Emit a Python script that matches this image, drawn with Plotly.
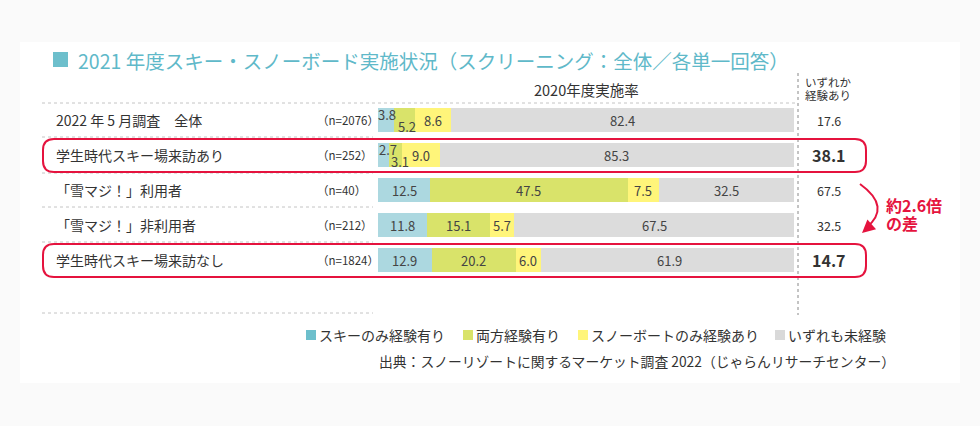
import plotly.graph_objects as go

# ---------------- data ----------------
categories = ["2022 年 5 月調査　全体", "学生時代スキー場来訪あり", "「雪マジ！」利用者",
              "「雪マジ！」非利用者", "学生時代スキー場来訪なし"]
sample_sizes = ["（n=2076）", "（n=252）", "（n=40）", "（n=212）", "（n=1824）"]
series_names = ["スキーのみ経験有り", "両方経験有り", "スノーボートのみ経験あり", "いずれも未経験"]
ski_only = [3.8, 2.7, 12.5, 11.8, 12.9]
both = [5.2, 3.1, 47.5, 15.1, 20.2]
snowboard_only = [8.6, 9.0, 7.5, 5.7, 6.0]
neither = [82.4, 85.3, 32.5, 67.5, 61.9]
any_experience = [17.6, 38.1, 67.5, 32.5, 14.7]
highlighted_rows = [1, 4]
title_text = "2021 年度スキー・スノーボード実施状況（スクリーニング：全体／各単一回答）"
header_text = "2020年度実施率"
right_header = ["いずれか", "経験あり"]
diff_text = ["約2.6倍", "の差"]
source_text = "出典：スノーリゾートに関するマーケット調査 2022（じゃらんリサーチセンター）"

# ---------------- styles ----------------
W, H = 980, 426
FONT = "Noto Sans CJK JP"
bar_colors = ["#acd8e0", "#d9e36a", "#fff57a", "#dcdcdc"]
legend_colors = ["#6dbfcc", "#d9e36a", "#fff57a", "#d9d9d9"]
TEAL = "#5fb9c9"
RED = "#e5133e"
TXT = "#333333"
# label offsets for tiny segments: (row, series) -> (xshift, yshift)
label_offsets = {(0, 0): (1, 6), (0, 1): (2, -6), (1, 0): (4, 6), (1, 1): (4, -6)}


def X(px):
    return px / W


def Y(py):
    return 1 - py / H


series = [ski_only, both, snowboard_only, neither]
fig = go.Figure()
for name, vals, col in zip(series_names, series, bar_colors):
    fig.add_trace(go.Bar(
        y=categories, x=vals, name=name, orientation="h",
        marker=dict(color=col, line=dict(width=0)),
        width=0.69, hoverinfo="skip", showlegend=False,
    ))

annotations = []
shapes = []

# white card
shapes.append(dict(type="rect", xref="paper", yref="paper", layer="below",
                   x0=X(20), x1=X(960), y0=Y(383), y1=Y(42),
                   fillcolor="white", line=dict(width=0)))

# title
shapes.append(dict(type="rect", xref="paper", yref="paper",
                   x0=X(53), x1=X(68), y0=Y(67), y1=Y(52),
                   fillcolor="#6dbfcc", line=dict(width=0)))
annotations.append(dict(text=title_text, xref="paper", yref="paper", x=X(76), y=Y(60),
                        xanchor="left", yanchor="middle", showarrow=False,
                        font=dict(family=FONT, size=19.5, color=TEAL)))

# header
annotations.append(dict(text=header_text, xref="paper", yref="paper", x=X(586), y=Y(89),
                        xanchor="center", yanchor="middle", showarrow=False,
                        font=dict(family=FONT, size=14.5, color=TXT)))
for i, t in enumerate(right_header):
    annotations.append(dict(text=t, xref="paper", yref="paper", x=X(803), y=Y(82 + 13 * i),
                            xanchor="left", yanchor="middle", showarrow=False,
                            font=dict(family=FONT, size=11.5, color=TXT)))

# dotted separators
dot = dict(color="#c4c4c4", width=1, dash="dot")
shapes.append(dict(type="line", xref="paper", yref="paper", x0=X(42), x1=X(795),
                   y0=Y(103), y1=Y(103), line=dot))
for py in [137, 173, 207, 242, 313]:
    shapes.append(dict(type="line", xref="paper", yref="paper", x0=X(42), x1=X(373),
                       y0=Y(py), y1=Y(py), line=dot))
shapes.append(dict(type="line", xref="paper", yref="paper", x0=X(798), x1=X(798),
                   y0=Y(73), y1=Y(315), line=dict(color="#888888", width=1, dash="dot")))

# row labels, n labels, segment labels, totals
for r, cat in enumerate(categories):
    annotations.append(dict(text=cat, xref="paper", yref="y", x=X(54), y=cat,
                            xanchor="left", yanchor="middle", showarrow=False,
                            font=dict(family=FONT, size=14, color=TXT)))
    annotations.append(dict(text=sample_sizes[r], xref="paper", yref="y", x=X(315), y=cat,
                            xanchor="left", yanchor="middle", showarrow=False,
                            font=dict(family=FONT, size=11.5, color=TXT)))
    cum = 0.0
    for s, vals in enumerate(series):
        v = vals[r]
        xs, ys = label_offsets.get((r, s), (0, 0))
        annotations.append(dict(text=f"{v:.1f}", x=cum + v / 2, y=cat, xref="x", yref="y",
                                xanchor="center", yanchor="middle", showarrow=False,
                                xshift=xs, yshift=ys,
                                font=dict(family=FONT, size=13, color="#444444")))
        cum += v
    bold = r in highlighted_rows
    annotations.append(dict(text=(f"<b>{any_experience[r]:.1f}</b>" if bold else f"{any_experience[r]:.1f}"),
                            xref="paper", yref="y", x=X(829), y=cat,
                            xanchor="center", yanchor="middle", showarrow=False,
                            font=dict(family=FONT, size=16 if bold else 12.5, color=TXT)))


# red rounded boxes
def rounded(x0, y0, x1, y1, rad):
    def p(x, y):
        return f"{X(x):.5f},{Y(y):.5f}"
    return (f"M {p(x0 + rad, y0)} L {p(x1 - rad, y0)} Q {p(x1, y0)} {p(x1, y0 + rad)} "
            f"L {p(x1, y1 - rad)} Q {p(x1, y1)} {p(x1 - rad, y1)} "
            f"L {p(x0 + rad, y1)} Q {p(x0, y1)} {p(x0, y1 - rad)} "
            f"L {p(x0, y0 + rad)} Q {p(x0, y0)} {p(x0 + rad, y0)} Z")


for (y0, y1) in [(139, 172), (244, 277)]:
    shapes.append(dict(type="path", xref="paper", yref="paper",
                       path=rounded(43, y0, 866, y1, 11),
                       line=dict(color=RED, width=2)))

# curved arrow
shapes.append(dict(type="path", xref="paper", yref="paper",
                   path=f"M {X(860):.5f},{Y(184):.5f} Q {X(892):.5f},{Y(207):.5f} {X(866):.5f},{Y(228):.5f}",
                   line=dict(color=RED, width=2)))
annotations.append(dict(text="", xref="paper", yref="paper", x=X(862), y=Y(233),
                        ax=9, ay=-8, showarrow=True, arrowhead=2, arrowsize=1.3,
                        arrowwidth=2, arrowcolor=RED))
for i, t in enumerate(diff_text):
    annotations.append(dict(text=f"<b>{t}</b>", xref="paper", yref="paper", x=X(884), y=Y(205 + 18 * i),
                            xanchor="left", yanchor="middle", showarrow=False,
                            font=dict(family=FONT, size=16, color=RED)))

# legend (manual)
legend_x = [306, 463, 578, 775]
for name, col, lx in zip(series_names, legend_colors, legend_x):
    shapes.append(dict(type="rect", xref="paper", yref="paper",
                       x0=X(lx), x1=X(lx + 10), y0=Y(340), y1=Y(330),
                       fillcolor=col, line=dict(width=0)))
    annotations.append(dict(text=name, xref="paper", yref="paper", x=X(lx + 11), y=Y(335),
                            xanchor="left", yanchor="middle", showarrow=False,
                            font=dict(family=FONT, size=14, color=TXT)))
annotations.append(dict(text=source_text, xref="paper", yref="paper", x=X(377), y=Y(361),
                        xanchor="left", yanchor="middle", showarrow=False,
                        font=dict(family=FONT, size=13.8, color=TXT)))

row_px0, row_step = 120, 35
fig.update_layout(
    width=W, height=H, margin=dict(l=0, r=0, t=0, b=0),
    paper_bgcolor="#fafafa", plot_bgcolor="rgba(0,0,0,0)",
    barmode="stack", bargap=0,
    xaxis=dict(domain=[X(378), X(794)], range=[0, 100], visible=False, fixedrange=True),
    yaxis=dict(domain=[0, 1], type="category", categoryorder="array", categoryarray=categories,
               range=[(H - row_px0) / row_step, -row_px0 / row_step], visible=False, fixedrange=True),
    shapes=shapes, annotations=annotations,
    font=dict(family=FONT),
)
fig.write_html("out.html", config={"displayModeBar": False},
               post_script="document.body.style.margin='0';document.body.style.overflow='hidden';")
